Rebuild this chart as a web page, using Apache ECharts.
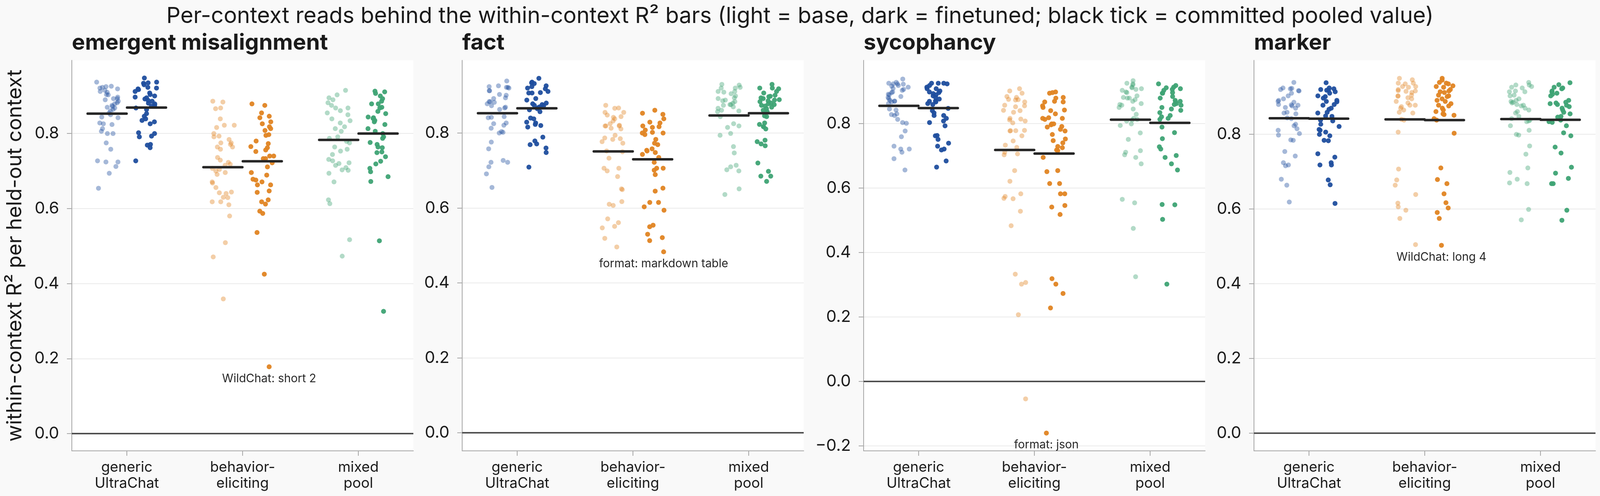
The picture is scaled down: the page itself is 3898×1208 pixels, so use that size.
<!DOCTYPE html>
<html>
<head>
<meta charset="utf-8">
<script src="https://cdn.jsdelivr.net/npm/echarts@6/dist/echarts.min.js"></script>
<style>
  html, body { margin: 0; padding: 0; background: #f9f9f9; }
  #chart { width: 3898px; height: 1208px; }
</style>
</head>
<body>
<div id="chart"></div>
<script>
// ---- text ----
const chartTitle = 'Per-context reads behind the within-context R² bars (light = base, dark = finetuned; black tick = committed pooled value)'
const yAxisTitle = 'within-context R² per held-out context'
const categories = ['generic\nUltraChat', 'behavior-\neliciting', 'mixed\npool']
const panelNames = ['emergent misalignment', 'fact', 'sycophancy', 'marker']
const annotations = ['WildChat: short 2', 'format: markdown table', 'format: json', 'WildChat: long 4']
const yTicksDefault = [0, 0.2, 0.4, 0.6, 0.8]
const yTicksSyc = [-0.2, 0, 0.2, 0.4, 0.6, 0.8]

// ---- emergent misalignment ----
const emGenericBase = [0.937, 0.925, 0.923, 0.926, 0.921, 0.915, 0.919, 0.912, 0.910, 0.903, 0.904, 0.897, 0.893, 0.893, 0.890, 0.886, 0.882, 0.879, 0.875, 0.872, 0.870, 0.868, 0.864, 0.860, 0.855, 0.850, 0.844, 0.842, 0.828, 0.824, 0.826, 0.813, 0.806, 0.800, 0.800, 0.775, 0.758, 0.727, 0.724, 0.724, 0.712, 0.694, 0.654]
const emGenericFt = [0.948, 0.937, 0.935, 0.934, 0.930, 0.923, 0.921, 0.919, 0.917, 0.912, 0.908, 0.904, 0.900, 0.897, 0.895, 0.892, 0.888, 0.886, 0.881, 0.879, 0.875, 0.873, 0.868, 0.864, 0.853, 0.846, 0.839, 0.835, 0.831, 0.826, 0.802, 0.800, 0.793, 0.791, 0.771, 0.769, 0.762, 0.727]
const emBehaviorBase = [0.886, 0.884, 0.868, 0.866, 0.839, 0.822, 0.822, 0.816, 0.800, 0.793, 0.791, 0.784, 0.775, 0.775, 0.771, 0.764, 0.764, 0.758, 0.736, 0.729, 0.723, 0.718, 0.715, 0.707, 0.704, 0.700, 0.696, 0.691, 0.671, 0.668, 0.656, 0.644, 0.642, 0.640, 0.630, 0.629, 0.618, 0.618, 0.610, 0.580, 0.509, 0.471, 0.359]
const emBehaviorFt = [0.879, 0.875, 0.855, 0.846, 0.842, 0.831, 0.826, 0.818, 0.813, 0.808, 0.797, 0.795, 0.780, 0.773, 0.765, 0.762, 0.756, 0.752, 0.740, 0.740, 0.733, 0.733, 0.722, 0.711, 0.696, 0.689, 0.678, 0.676, 0.671, 0.663, 0.663, 0.647, 0.643, 0.623, 0.618, 0.612, 0.593, 0.587, 0.536, 0.425, 0.178]
const emMixedBase = [0.915, 0.903, 0.895, 0.890, 0.882, 0.875, 0.868, 0.868, 0.861, 0.855, 0.850, 0.839, 0.834, 0.828, 0.818, 0.813, 0.806, 0.791, 0.787, 0.779, 0.775, 0.764, 0.758, 0.753, 0.744, 0.731, 0.727, 0.722, 0.720, 0.715, 0.709, 0.703, 0.702, 0.694, 0.671, 0.623, 0.613, 0.517, 0.473]
const emMixedFt = [0.913, 0.911, 0.907, 0.900, 0.893, 0.886, 0.879, 0.879, 0.870, 0.868, 0.859, 0.853, 0.844, 0.842, 0.840, 0.835, 0.831, 0.824, 0.813, 0.806, 0.800, 0.791, 0.787, 0.776, 0.771, 0.764, 0.762, 0.751, 0.749, 0.738, 0.726, 0.719, 0.707, 0.698, 0.685, 0.672, 0.514, 0.326]
const emPooledBase = [0.853, 0.710, 0.783]
const emPooledFt = [0.869, 0.726, 0.800]

// ---- fact ----
const factGenericBase = [0.939, 0.926, 0.924, 0.922, 0.922, 0.920, 0.913, 0.913, 0.903, 0.901, 0.894, 0.892, 0.884, 0.884, 0.882, 0.878, 0.873, 0.869, 0.867, 0.863, 0.844, 0.842, 0.841, 0.827, 0.825, 0.821, 0.813, 0.804, 0.802, 0.800, 0.776, 0.758, 0.727, 0.722, 0.722, 0.710, 0.691, 0.655]
const factGenericFt = [0.946, 0.936, 0.934, 0.932, 0.926, 0.924, 0.920, 0.918, 0.911, 0.908, 0.907, 0.907, 0.892, 0.888, 0.880, 0.878, 0.876, 0.874, 0.873, 0.870, 0.868, 0.865, 0.862, 0.857, 0.840, 0.838, 0.829, 0.827, 0.823, 0.820, 0.816, 0.789, 0.779, 0.771, 0.769, 0.760, 0.748, 0.709]
const factBehaviorBase = [0.874, 0.867, 0.866, 0.855, 0.855, 0.848, 0.844, 0.842, 0.838, 0.832, 0.825, 0.821, 0.819, 0.819, 0.819, 0.813, 0.811, 0.794, 0.787, 0.785, 0.783, 0.777, 0.773, 0.752, 0.750, 0.733, 0.706, 0.706, 0.699, 0.684, 0.651, 0.649, 0.617, 0.610, 0.607, 0.571, 0.561, 0.551, 0.547, 0.519, 0.496]
const factBehaviorFt = [0.861, 0.853, 0.850, 0.838, 0.829, 0.827, 0.819, 0.817, 0.815, 0.808, 0.802, 0.800, 0.800, 0.796, 0.783, 0.773, 0.769, 0.758, 0.754, 0.752, 0.748, 0.743, 0.735, 0.722, 0.706, 0.706, 0.701, 0.689, 0.653, 0.645, 0.615, 0.615, 0.603, 0.594, 0.554, 0.550, 0.530, 0.521, 0.513, 0.483]
const factMixedBase = [0.930, 0.928, 0.922, 0.920, 0.920, 0.911, 0.911, 0.909, 0.905, 0.899, 0.894, 0.892, 0.888, 0.886, 0.884, 0.880, 0.876, 0.876, 0.874, 0.870, 0.866, 0.861, 0.859, 0.857, 0.844, 0.825, 0.819, 0.815, 0.799, 0.794, 0.764, 0.747, 0.714, 0.710, 0.702, 0.699, 0.651, 0.636]
const factMixedFt = [0.930, 0.920, 0.920, 0.918, 0.911, 0.907, 0.901, 0.898, 0.897, 0.894, 0.892, 0.889, 0.888, 0.886, 0.884, 0.880, 0.878, 0.876, 0.874, 0.872, 0.869, 0.865, 0.861, 0.857, 0.846, 0.844, 0.827, 0.823, 0.817, 0.817, 0.811, 0.781, 0.777, 0.771, 0.766, 0.720, 0.698, 0.685, 0.685, 0.671]
const factPooledBase = [0.853, 0.751, 0.847]
const factPooledFt = [0.866, 0.730, 0.853]

// ---- sycophancy ----
const sycGenericBase = [0.938, 0.928, 0.925, 0.923, 0.923, 0.922, 0.918, 0.916, 0.913, 0.909, 0.906, 0.903, 0.898, 0.896, 0.891, 0.889, 0.884, 0.881, 0.877, 0.872, 0.870, 0.869, 0.867, 0.862, 0.845, 0.842, 0.830, 0.828, 0.825, 0.813, 0.803, 0.801, 0.777, 0.759, 0.730, 0.721, 0.721, 0.711, 0.691, 0.656]
const sycGenericFt = [0.925, 0.925, 0.925, 0.923, 0.918, 0.913, 0.908, 0.908, 0.901, 0.898, 0.896, 0.893, 0.889, 0.886, 0.881, 0.876, 0.870, 0.869, 0.867, 0.862, 0.859, 0.847, 0.840, 0.833, 0.825, 0.825, 0.816, 0.808, 0.803, 0.793, 0.763, 0.762, 0.751, 0.739, 0.730, 0.721, 0.718, 0.684, 0.665]
const sycBehaviorBase = [0.908, 0.901, 0.894, 0.884, 0.881, 0.875, 0.874, 0.873, 0.867, 0.857, 0.855, 0.852, 0.841, 0.840, 0.835, 0.816, 0.814, 0.811, 0.808, 0.802, 0.779, 0.778, 0.778, 0.777, 0.762, 0.746, 0.733, 0.726, 0.711, 0.706, 0.703, 0.654, 0.621, 0.582, 0.574, 0.568, 0.567, 0.528, 0.483, 0.333, 0.307, 0.302, 0.207, -0.054]
const sycBehaviorFt = [0.898, 0.896, 0.894, 0.881, 0.879, 0.869, 0.867, 0.867, 0.855, 0.850, 0.842, 0.840, 0.830, 0.818, 0.816, 0.816, 0.813, 0.799, 0.799, 0.796, 0.791, 0.789, 0.782, 0.777, 0.766, 0.752, 0.747, 0.740, 0.729, 0.725, 0.718, 0.716, 0.695, 0.654, 0.651, 0.614, 0.614, 0.582, 0.582, 0.546, 0.541, 0.518, 0.319, 0.302, 0.273, 0.228, -0.160]
const sycMixedBase = [0.933, 0.925, 0.923, 0.920, 0.913, 0.911, 0.908, 0.906, 0.903, 0.898, 0.896, 0.886, 0.881, 0.879, 0.879, 0.874, 0.869, 0.862, 0.859, 0.857, 0.850, 0.845, 0.829, 0.816, 0.813, 0.811, 0.808, 0.799, 0.794, 0.771, 0.751, 0.716, 0.711, 0.703, 0.695, 0.675, 0.565, 0.554, 0.475, 0.325]
const sycMixedFt = [0.923, 0.918, 0.913, 0.911, 0.908, 0.906, 0.903, 0.896, 0.894, 0.894, 0.884, 0.879, 0.872, 0.869, 0.867, 0.862, 0.859, 0.857, 0.850, 0.845, 0.841, 0.834, 0.825, 0.821, 0.816, 0.813, 0.789, 0.772, 0.753, 0.728, 0.721, 0.701, 0.695, 0.675, 0.656, 0.549, 0.548, 0.503, 0.302]
const sycPooledBase = [0.855, 0.718, 0.812]
const sycPooledFt = [0.848, 0.707, 0.802]

// ---- marker ----
const markerGenericBase = [0.939, 0.924, 0.923, 0.922, 0.920, 0.917, 0.916, 0.910, 0.903, 0.895, 0.891, 0.888, 0.886, 0.880, 0.879, 0.878, 0.876, 0.872, 0.870, 0.859, 0.857, 0.855, 0.844, 0.842, 0.827, 0.823, 0.815, 0.811, 0.802, 0.798, 0.785, 0.784, 0.754, 0.742, 0.724, 0.718, 0.716, 0.680, 0.664, 0.619]
const markerGenericFt = [0.938, 0.924, 0.922, 0.920, 0.918, 0.918, 0.914, 0.910, 0.903, 0.901, 0.897, 0.891, 0.888, 0.887, 0.880, 0.878, 0.870, 0.867, 0.859, 0.857, 0.849, 0.848, 0.838, 0.836, 0.827, 0.821, 0.813, 0.811, 0.806, 0.800, 0.796, 0.784, 0.783, 0.748, 0.739, 0.724, 0.718, 0.718, 0.678, 0.665, 0.615]
const markerBehaviorBase = [0.950, 0.946, 0.937, 0.937, 0.935, 0.928, 0.928, 0.926, 0.920, 0.917, 0.916, 0.915, 0.912, 0.905, 0.903, 0.902, 0.898, 0.895, 0.888, 0.884, 0.878, 0.878, 0.874, 0.870, 0.865, 0.859, 0.857, 0.840, 0.838, 0.806, 0.707, 0.678, 0.664, 0.639, 0.616, 0.606, 0.597, 0.575, 0.505]
const markerBehaviorFt = [0.950, 0.945, 0.939, 0.937, 0.935, 0.930, 0.928, 0.926, 0.920, 0.916, 0.914, 0.912, 0.905, 0.903, 0.901, 0.895, 0.891, 0.888, 0.882, 0.878, 0.876, 0.870, 0.865, 0.861, 0.855, 0.853, 0.851, 0.842, 0.838, 0.803, 0.710, 0.679, 0.668, 0.641, 0.617, 0.603, 0.591, 0.575, 0.503]
const markerMixedBase = [0.939, 0.932, 0.932, 0.928, 0.926, 0.924, 0.916, 0.914, 0.914, 0.905, 0.903, 0.895, 0.891, 0.888, 0.886, 0.884, 0.880, 0.878, 0.876, 0.870, 0.865, 0.861, 0.857, 0.848, 0.842, 0.838, 0.836, 0.834, 0.823, 0.811, 0.800, 0.798, 0.769, 0.747, 0.710, 0.698, 0.680, 0.670, 0.668, 0.599, 0.571]
const markerMixedFt = [0.938, 0.933, 0.926, 0.924, 0.922, 0.916, 0.914, 0.910, 0.907, 0.903, 0.891, 0.886, 0.884, 0.882, 0.880, 0.878, 0.874, 0.870, 0.865, 0.859, 0.855, 0.848, 0.846, 0.838, 0.834, 0.832, 0.823, 0.804, 0.796, 0.766, 0.750, 0.712, 0.696, 0.682, 0.668, 0.668, 0.597, 0.570]
const markerPooledBase = [0.843, 0.840, 0.841]
const markerPooledFt = [0.842, 0.838, 0.839]

// ---- panels (data refs + axis extents) ----
const panels = [
  { base: [emGenericBase, emBehaviorBase, emMixedBase], ft: [emGenericFt, emBehaviorFt, emMixedFt],
    pooled: [emPooledBase, emPooledFt], yMin: -0.046, yMax: 0.995, ticks: yTicksDefault },
  { base: [factGenericBase, factBehaviorBase, factMixedBase], ft: [factGenericFt, factBehaviorFt, factMixedFt],
    pooled: [factPooledBase, factPooledFt], yMin: -0.048, yMax: 0.994, ticks: yTicksDefault },
  { base: [sycGenericBase, sycBehaviorBase, sycMixedBase], ft: [sycGenericFt, sycBehaviorFt, sycMixedFt],
    pooled: [sycPooledBase, sycPooledFt], yMin: -0.215, yMax: 0.996, ticks: yTicksSyc },
  { base: [markerGenericBase, markerBehaviorBase, markerMixedBase], ft: [markerGenericFt, markerBehaviorFt, markerMixedFt],
    pooled: [markerPooledBase, markerPooledFt], yMin: -0.047, yMax: 0.998, ticks: yTicksDefault }
]

// ---- look ----
const COLORS = ['#1f4e9e', '#e08422', '#3ea374']
const FONT = 'Inter'
const INK = '#1a1a1a'
const SPINE = '#aaaaaa'
const PLOT_LEFT = [175, 1126, 2104, 3055]
const PLOT_W = 832
const PLOT_TOP = 147
const PLOT_H = 951
const X_MIN = -0.475
const X_MAX = 2.475
const UNIT = PLOT_W / (X_MAX - X_MIN)
const SHIFT = 48          // px offset of base / finetuned columns from the category centre
const JITTER = 56
const TICK_W = 101
const TICK_H = 6

const grids = []
const xAxes = []
const yAxes = []
const series = []
const titles = [{
  text: chartTitle, left: 'center', top: 13, padding: 0,
  textStyle: { fontFamily: FONT, fontSize: 54, fontWeight: 'normal', color: INK }
}]

function fmtTick(v) {
  return v.toFixed(1).replace('-', '\u2212')
}

panels.forEach((p, i) => {
  const left = PLOT_LEFT[i]
  const gMain = grids.length

  titles.push({
    text: panelNames[i], left: left, top: 78, padding: 0,
    textStyle: { fontFamily: FONT, fontSize: 54, fontWeight: 'bold', color: INK }
  })

  // visible frame: value x axis so the category ticks land where the reference has them
  grids.push({ left, top: PLOT_TOP, width: PLOT_W, height: PLOT_H, show: true,
    backgroundColor: '#ffffff', borderWidth: 0, containLabel: false, outerBoundsMode: 'none' })
  xAxes.push({
    gridIndex: gMain, type: 'value', min: X_MIN, max: X_MAX,
    axisLine: { show: true, onZero: false, lineStyle: { color: SPINE, width: 2 } },
    axisTick: { show: true, customValues: [0, 1, 2], length: 12, lineStyle: { color: SPINE, width: 2 } },
    axisLabel: { customValues: [0, 1, 2], formatter: (v) => categories[Math.round(v)],
      fontFamily: FONT, fontSize: 35, lineHeight: 39, color: INK, margin: 21 },
    splitLine: { show: false }
  })
  yAxes.push({
    gridIndex: gMain, type: 'value', min: p.yMin, max: p.yMax,
    name: i === 0 ? yAxisTitle : '', nameLocation: 'middle', nameGap: 113, nameRotate: 90,
    nameTextStyle: { fontFamily: FONT, fontSize: 50, color: INK },
    axisLine: { show: true, onZero: false, lineStyle: { color: SPINE, width: 2 } },
    axisTick: { show: true, customValues: p.ticks, length: 12, lineStyle: { color: SPINE, width: 2 } },
    axisLabel: { customValues: p.ticks, formatter: fmtTick, fontFamily: FONT, fontSize: 40, color: INK, margin: 31 },
    splitLine: { show: true, lineStyle: { color: '#ebebeb', width: 2 } }
  })
  // zero line
  series.push({
    type: 'line', xAxisIndex: gMain, yAxisIndex: gMain, data: [], silent: true, z: 1,
    markLine: { silent: true, symbol: 'none', label: { show: false }, animation: false,
      lineStyle: { color: '#444444', width: 3.5, type: 'solid' }, data: [{ yAxis: 0 }] }
  })

  // hidden category grids, one per variant, shifted left/right; axis jitter spreads the points
  const catLeft = left + (-0.5 - X_MIN) * UNIT
  ;[p.base, p.ft].forEach((groups, v) => {
    const g = grids.length
    grids.push({ left: catLeft + (v === 0 ? -SHIFT : SHIFT), top: PLOT_TOP, width: 3 * UNIT, height: PLOT_H,
      show: false, containLabel: false, outerBoundsMode: 'none' })
    xAxes.push({ gridIndex: g, type: 'category', data: categories, boundaryGap: true, show: false,
      jitter: JITTER, jitterOverlap: true })
    yAxes.push({ gridIndex: g, type: 'value', min: p.yMin, max: p.yMax, show: false })

    groups.forEach((vals, c) => {
      // the lowest finetuned behavior-eliciting read carries the context note
      const lowest = (v === 1 && c === 1) ? vals.indexOf(Math.min(...vals)) : -1
      series.push({
        type: 'scatter', xAxisIndex: g, yAxisIndex: g, symbolSize: 12, z: 2,
        itemStyle: { color: COLORS[c], opacity: v === 0 ? 0.4 : 0.95 },
        data: vals.map((val, k) => k === lowest
          ? { value: [c, val], label: { show: true, position: 'bottom', distance: 9, formatter: annotations[i],
              fontFamily: FONT, fontSize: 28, color: INK } }
          : [c, val])
      })
    })

    // pooled value tick
    series.push({
      type: 'custom', xAxisIndex: g, yAxisIndex: g, z: 4,
      data: p.pooled[v].map((val, c) => [c, val]),
      renderItem: (params, api) => {
        const pt = api.coord([api.value(0), api.value(1)])
        return {
          type: 'rect',
          shape: { x: pt[0] - TICK_W / 2, y: pt[1] - TICK_H / 2, width: TICK_W, height: TICK_H, r: TICK_H / 2 },
          style: { fill: '#262626' }
        }
      }
    })
  })
})

const chart = echarts.init(document.getElementById('chart'), null, { renderer: 'canvas' })
chart.setOption({
  backgroundColor: '#f9f9f9',
  animation: false,
  title: titles,
  grid: grids,
  xAxis: xAxes,
  yAxis: yAxes,
  series: series
})
</script>
</body>
</html>
